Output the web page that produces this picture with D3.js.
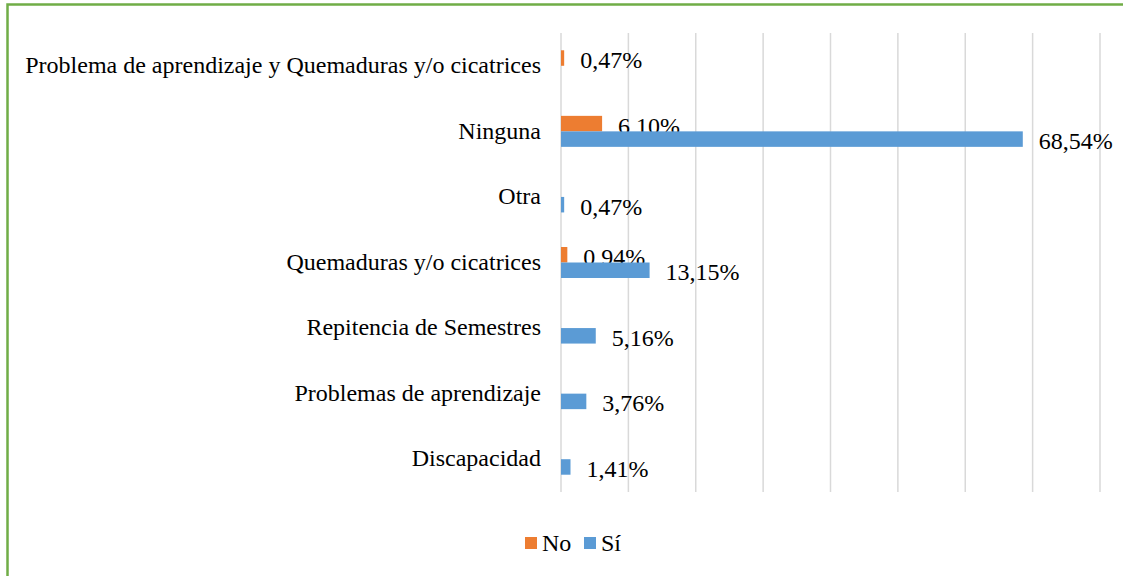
<!DOCTYPE html>
<html>
<head>
<meta charset="utf-8">
<script src="https://cdn.jsdelivr.net/npm/d3@7"></script>
<style>
  html, body { margin: 0; padding: 0; background: #fff; }
  svg { display: block; }
</style>
</head>
<body>
<svg id="chart" width="1123" height="576"></svg>
<script>
const categories = [
  "Problema de aprendizaje y Quemaduras y/o cicatrices",
  "Ninguna",
  "Otra",
  "Quemaduras y/o cicatrices",
  "Repitencia de Semestres",
  "Problemas de aprendizaje",
  "Discapacidad"
];
const seriesNames = ["No", "Sí"];
const valuesNo = [0.47, 6.10, 0, 0.94, 0, 0, 0];
const valuesSi = [0, 68.54, 0.47, 13.15, 5.16, 3.76, 1.41];
const xTicks = [0, 10, 20, 30, 40, 50, 60, 70, 80];
const colors = ["#ED7D31", "#5B9BD5"];

const FONT = "'Liberation Serif', 'Times New Roman', Tinos, serif";
const FS = "24px";

const svg = d3.select("#chart");
const W = 1123, H = 576;

// frame
svg.append("rect")
  .attr("x", 7.5).attr("y", 4.5)
  .attr("width", W + 10).attr("height", H + 10)
  .attr("fill", "none").attr("stroke", "#70AD47").attr("stroke-width", 2.5);

const plot = { left: 561, right: 1100, top: 33, bottom: 492 };

const x = d3.scaleLinear().domain([0, 80]).range([plot.left, plot.right]);
const y = d3.scaleBand().domain(categories).range([plot.top, plot.bottom]).padding(0);
const barH = 15.5;
const ySub = d3.scaleBand().domain(seriesNames)
  .range([y.bandwidth() / 2 - barH, y.bandwidth() / 2 + barH]).padding(0);

// gridlines
svg.append("g").selectAll("line").data(xTicks).join("line")
  .attr("x1", d => x(d)).attr("x2", d => x(d))
  .attr("y1", plot.top).attr("y2", plot.bottom)
  .attr("stroke", "#d9d9d9").attr("stroke-width", 1.5);

// category labels via axis
const yAxis = d3.axisLeft(y).tickSize(0).tickPadding(20);
const ag = svg.append("g").attr("transform", `translate(${plot.left},0)`).call(yAxis);
ag.select(".domain").remove();
ag.attr("font-family", null).attr("font-size", null);
ag.selectAll("text")
  .style("font-family", FONT)
  .style("font-size", FS)
  .style("fill", "#000")
  .attr("dy", "0.3em");

const locale = d3.formatLocale({ decimal: ",", thousands: ".", grouping: [3], currency: ["", ""] });
const fmt = v => locale.format(".2f")(v) + "%";

const rows = categories.map((c, i) => ({ cat: c, vals: [valuesNo[i], valuesSi[i]] }));

const groups = svg.append("g").selectAll("g").data(rows).join("g")
  .attr("transform", d => `translate(0,${y(d.cat)})`);

const items = groups.selectAll("g").data(d => d.vals.map((v, j) => ({ v, s: seriesNames[j], j })).filter(e => e.v > 0))
  .join("g");

items.append("rect")
  .attr("x", x(0))
  .attr("y", d => ySub(d.s))
  .attr("width", d => x(d.v) - x(0))
  .attr("height", ySub.bandwidth())
  .attr("fill", d => colors[d.j]);

items.append("text")
  .attr("x", d => x(d.v) + 16)
  .attr("y", d => ySub(d.s) + ySub.bandwidth() / 2 + 2)
  .attr("dy", "0.33em")
  .style("font-family", FONT)
  .style("font-size", FS)
  .style("fill", "#000")
  .text(d => fmt(d.v));

// legend
const legend = svg.append("g").attr("transform", "translate(525,537)");
const lx = [0, 59];
seriesNames.forEach((s, i) => {
  const g = legend.append("g").attr("transform", `translate(${lx[i]},0)`);
  g.append("rect").attr("width", 12).attr("height", 12).attr("fill", colors[i]);
  g.append("text").attr("x", 17).attr("y", 6).attr("dy", "0.33em")
    .style("font-family", FONT).style("font-size", FS).style("fill", "#000")
    .text(s);
});
</script>
</body>
</html>
